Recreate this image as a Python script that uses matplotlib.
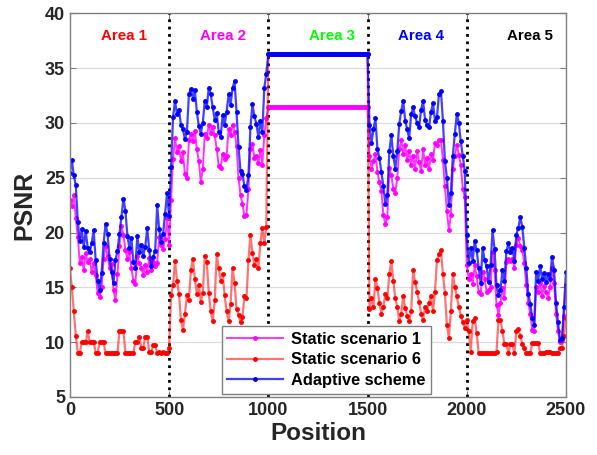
import numpy as np
import matplotlib
matplotlib.use("Agg")
import matplotlib.pyplot as plt

plt.rcParams['font.family'] = ['Liberation Sans', 'DejaVu Sans']
plt.rcParams['font.weight'] = 'bold'

# positions, one sample every 10
position = np.arange(0, 2501, 10)

# Adaptive scheme (blue)
adaptive = [
    # area 1 (0..490)
    25.4, 26.6, 25.2, 24.3, 21.0, 19.2, 20.3, 18.7, 20.1, 18.6,
    18.2, 19.0, 20.2, 17.5, 15.6, 14.8, 16.3, 19.0, 20.8, 19.9,
    17.6, 16.4, 15.4, 17.5, 18.3, 19.9, 21.4, 23.1, 22.0, 19.7,
    18.6, 19.5, 17.3, 16.8, 19.7, 18.2, 18.9, 17.9, 18.7, 20.4,
    18.4, 16.9, 17.8, 18.3, 22.5, 20.3, 19.1, 19.9, 21.7, 23.6,
    # area 2 (500..990)
    21.5, 26.0, 30.5, 32.0, 30.8, 31.2, 29.8, 29.4, 28.5, 29.2,
    32.6, 33.1, 32.2, 33.0, 31.0, 29.7, 29.0, 30.0, 32.0, 31.4,
    33.2, 32.6, 31.4, 30.3, 30.9, 29.2, 28.7, 30.7, 29.8, 31.0,
    32.6, 31.6, 33.2, 33.8, 31.0, 27.8, 25.6, 25.3, 24.2, 23.9,
    25.2, 29.6, 31.7, 30.6, 29.9, 28.7, 30.2, 29.2, 33.2, 34.5,
    # area 3 (1000..1490)
    36.3, 36.3, 36.3, 36.3, 36.3, 36.3, 36.3, 36.3, 36.3, 36.3,
    36.3, 36.3, 36.3, 36.3, 36.3, 36.3, 36.3, 36.3, 36.3, 36.3,
    36.3, 36.3, 36.3, 36.3, 36.3, 36.3, 36.3, 36.3, 36.3, 36.3,
    36.3, 36.3, 36.3, 36.3, 36.3, 36.3, 36.3, 36.3, 36.3, 36.3,
    36.3, 36.3, 36.3, 36.3, 36.3, 36.3, 36.3, 36.3, 36.3, 36.3,
    # area 4 (1500..1990)
    36.3, 29.8, 28.2, 29.4, 30.4, 27.6, 26.8, 25.5, 24.2, 22.6,
    23.4, 27.4, 28.9, 27.0, 25.8, 27.4, 29.9, 31.1, 32.0, 30.2,
    29.4, 28.6, 30.8, 31.4, 30.6, 30.0, 29.6, 31.2, 32.0, 30.3,
    29.8, 29.6, 31.0, 31.8, 30.2, 30.5, 32.6, 32.9, 30.2, 26.5,
    25.0, 22.5, 23.6, 27.0, 29.0, 30.8, 30.0, 28.3, 27.0, 25.6,
    # area 5 (2000..2500)
    19.8, 17.2, 18.6, 17.4, 19.2, 18.4, 16.8, 15.4, 18.6, 17.5,
    16.9, 15.5, 17.0, 20.2, 18.5, 15.2, 14.3, 14.8, 16.6, 15.6,
    18.3, 19.0, 18.2, 18.6, 17.4, 19.8, 20.4, 21.4, 20.5, 18.6,
    16.8, 14.4, 13.5, 12.2, 11.6, 16.4, 15.6, 16.9, 15.8, 16.3,
    15.5, 16.2, 15.8, 17.8, 16.6, 13.6, 11.8, 10.2, 10.4, 13.2,
    16.4,
]

# Static scenario 1 (magenta)
static1 = [
    23.0, 22.4, 23.4, 21.3, 19.6, 17.2, 17.8, 16.6, 18.1, 17.3,
    17.6, 16.4, 17.2, 16.1, 14.5, 14.1, 15.0, 17.6, 18.8, 17.9,
    16.8, 17.1, 14.8, 13.8, 16.2, 18.8, 20.6, 19.8, 18.4, 17.6,
    18.2, 16.8, 15.6, 15.3, 17.9, 17.2, 16.8, 16.1, 17.0, 16.4,
    17.7, 16.6, 17.3, 16.9, 17.2, 19.6, 18.9, 18.5, 19.4, 21.3,
    18.9, 23.0, 26.7, 28.6, 27.3, 27.9, 26.5, 27.3, 25.3, 25.0,
    28.4, 29.0, 28.3, 29.3, 27.6, 26.5, 24.6, 25.8, 29.0, 28.6,
    29.8, 29.1, 29.6, 28.9, 27.6, 26.1, 25.9, 27.2, 26.7, 27.0,
    29.4, 28.9, 29.8, 29.2, 27.9, 25.0, 23.4, 22.6, 21.5, 21.6,
    24.0, 27.6, 28.1, 26.8, 27.0, 26.3, 27.5, 26.2, 28.9, 30.4,
    31.4, 31.4, 31.4, 31.4, 31.4, 31.4, 31.4, 31.4, 31.4, 31.4,
    31.4, 31.4, 31.4, 31.4, 31.4, 31.4, 31.4, 31.4, 31.4, 31.4,
    31.4, 31.4, 31.4, 31.4, 31.4, 31.4, 31.4, 31.4, 31.4, 31.4,
    31.4, 31.4, 31.4, 31.4, 31.4, 31.4, 31.4, 31.4, 31.4, 31.4,
    31.4, 31.4, 31.4, 31.4, 31.4, 31.4, 31.4, 31.4, 31.4, 31.4,
    31.4, 27.0, 25.8, 26.5, 27.2, 25.5, 24.6, 23.8, 21.6, 20.8,
    21.4, 25.9, 25.2, 24.0, 23.6, 25.0, 27.6, 28.4, 27.2, 28.0,
    26.6, 27.4, 26.2, 27.0, 25.8, 27.4, 26.4, 25.6, 27.6, 26.2,
    26.8, 25.8, 27.2, 26.6, 28.2, 28.0, 28.4, 28.4, 26.6, 24.2,
    22.0, 20.2, 21.6, 25.8, 27.0, 28.0, 27.1, 26.2, 24.0, 23.2,
    17.0, 15.8, 16.2, 15.3, 17.0, 16.0, 14.6, 14.4, 16.4, 15.8,
    14.6, 14.8, 15.0, 18.2, 16.6, 13.4, 12.5, 13.6, 14.9, 14.0,
    17.3, 17.6, 17.4, 17.6, 16.8, 18.9, 19.5, 18.8, 18.4, 17.2,
    15.2, 13.6, 12.6, 11.1, 11.0, 15.0, 14.6, 15.4, 14.2, 15.1,
    14.6, 14.0, 15.0, 16.8, 15.4, 12.6, 11.0, 10.0, 10.2, 12.4,
    15.2,
]

# Static scenario 6 (red)
static6 = [
    16.8, 15.0, 12.8, 10.6, 9.0, 9.0, 10.0, 10.0, 10.0, 11.0,
    10.0, 10.0, 10.0, 9.0, 9.0, 10.0, 10.0, 10.0, 9.0, 9.0,
    9.0, 9.0, 9.0, 9.0, 9.0, 11.0, 11.0, 11.0, 9.0, 9.0,
    9.0, 9.0, 9.0, 10.0, 10.0, 10.5, 9.5, 9.5, 10.5, 10.5,
    9.1, 9.1, 9.7, 9.7, 9.0, 9.1, 9.0, 9.1, 9.0, 9.0,
    9.5, 14.3, 15.2, 17.4, 15.6, 14.4, 12.0, 11.1, 12.6, 14.3,
    13.8, 16.6, 17.6, 15.8, 14.4, 15.2, 13.7, 14.5, 17.9, 17.3,
    14.5, 12.8, 11.9, 13.8, 18.0, 16.8, 15.6, 16.2, 14.3, 12.8,
    11.9, 13.5, 16.8, 15.4, 13.0, 12.5, 11.8, 12.3, 14.2, 14.0,
    17.5, 19.8, 18.1, 17.0, 17.6, 16.8, 19.0, 20.4, 19.0, 20.5,
    36.3, 36.3, 36.3, 36.3, 36.3, 36.3, 36.3, 36.3, 36.3, 36.3,
    36.3, 36.3, 36.3, 36.3, 36.3, 36.3, 36.3, 36.3, 36.3, 36.3,
    36.3, 36.3, 36.3, 36.3, 36.3, 36.3, 36.3, 36.3, 36.3, 36.3,
    36.3, 36.3, 36.3, 36.3, 36.3, 36.3, 36.3, 36.3, 36.3, 36.3,
    36.3, 36.3, 36.3, 36.3, 36.3, 36.3, 36.3, 36.3, 36.3, 36.3,
    36.3, 13.0, 14.0, 13.2, 15.8, 14.9, 13.6, 12.6, 13.2, 14.4,
    14.0, 16.2, 17.4, 15.6, 14.0, 13.2, 11.9, 12.6, 14.2, 13.1,
    12.4, 11.9, 12.8, 16.6, 15.5, 14.6, 13.7, 12.6, 12.0, 13.2,
    12.8, 13.6, 14.2, 12.8, 14.6, 17.5, 18.0, 18.4, 16.2, 14.5,
    11.6, 10.4, 12.8, 16.2, 15.0, 14.2, 13.2, 12.4, 11.8, 11.3,
    12.0, 11.0, 9.1, 11.9, 12.2, 10.8, 9.0, 9.0, 9.0, 9.0,
    9.0, 9.0, 9.0, 9.0, 9.0, 9.1, 12.0, 12.0, 11.0, 9.8,
    9.8, 9.0, 9.8, 9.8, 9.0, 11.0, 11.2, 10.6, 9.8, 9.5,
    9.0, 9.0, 9.0, 9.9, 9.9, 9.9, 9.9, 9.0, 9.0, 9.0,
    9.1, 9.1, 9.1, 9.0, 9.0, 9.0, 9.0, 9.5, 9.5, 10.6,
    12.2,
]

area_bounds = [500, 1000, 1500, 2000]
area_labels = ['Area 1', 'Area 2', 'Area 3', 'Area 4', 'Area 5']
area_colors = ['#ff0000', '#ff00ff', '#00ff00', '#0000ff', '#000000']
area_label_x = [272, 770, 1320, 1769, 2319]

fig = plt.figure(figsize=(5.97, 4.55), dpi=100)
ax = fig.add_axes([0.117, 0.1275, 0.831, 0.8435])

ax.plot(position, static1, color=(1, 0, 1, 0.8), lw=1.4, marker='.', ms=5,
        mfc='#ff00ff', mec='#ff00ff', label='Static scenario 1')
ax.plot(position, static6, color=(1, 0, 0, 0.55), lw=1.6, marker='.', ms=5,
        mfc='#ff0000', mec='#ff0000', label='Static scenario 6')
ax.plot(position, adaptive, color=(0, 0, 1, 0.75), lw=1.6, marker='.', ms=5,
        mfc='#0000ff', mec='#0000ff', label='Adaptive scheme')

for b in area_bounds:
    ax.axvline(b, color='k', ls=':', lw=2, zorder=1)

for lab, col, xl in zip(area_labels, area_colors, area_label_x):
    ax.text(xl, 37.9, lab, color=col, fontsize=10.8, fontweight='bold',
            ha='center', va='center')

ax.set_xlim(0, 2500)
ax.set_ylim(5, 40)
ax.set_xticks([0, 500, 1000, 1500, 2000, 2500])
ax.set_yticks([5, 10, 15, 20, 25, 30, 35, 40])
ax.yaxis.grid(True, color='#dcdcdc', lw=0.9)
ax.set_axisbelow(True)

for s in ax.spines.values():
    s.set_color('#808080')
    s.set_linewidth(1.0)
ax.tick_params(direction='in', top=True, right=True, color='#808080',
               labelcolor='#262626', labelsize=13, length=4)
for t in ax.get_xticklabels() + ax.get_yticklabels():
    t.set_fontweight('bold')

ax.set_xlabel('Position', fontsize=17.5, fontweight='bold', color='#262626',
              labelpad=2)
ax.set_ylabel('PSNR', fontsize=18, fontweight='bold', color='#262626',
              labelpad=6)

leg = ax.legend(loc='lower left', bbox_to_anchor=(0.306, 0.008),
                borderaxespad=0, fontsize=11.8, handlelength=3.4,
                fancybox=False, framealpha=1, edgecolor='#808080',
                borderpad=0.35, labelspacing=0.35, handletextpad=0.5)
leg.get_frame().set_linewidth(1.0)
for t in leg.get_texts():
    t.set_fontweight('bold')

fig.savefig('out.png', dpi=100)
